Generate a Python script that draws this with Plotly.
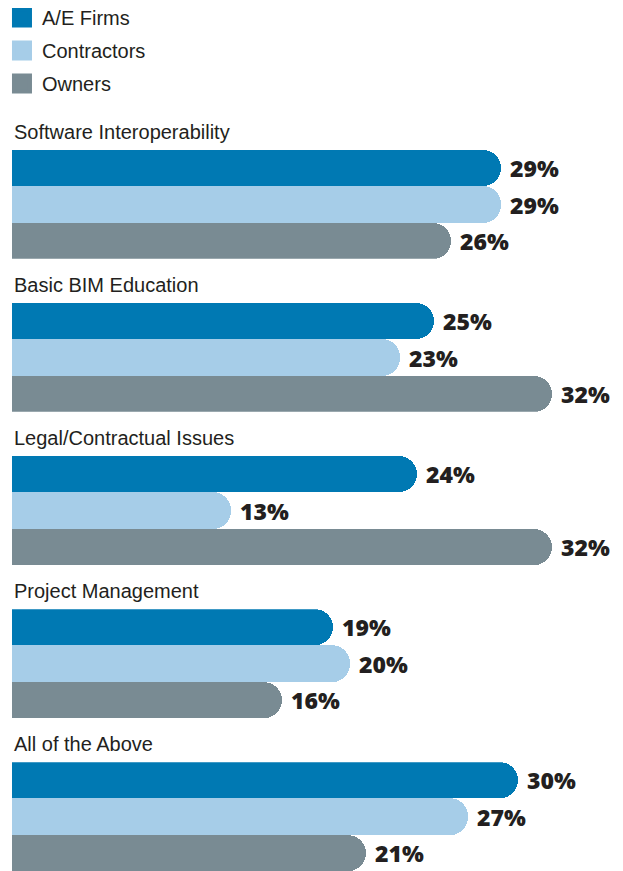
import plotly.graph_objects as go
from plotly.subplots import make_subplots

CATEGORIES = [
    "Software Interoperability",
    "Basic BIM Education",
    "Legal/Contractual Issues",
    "Project Management",
    "All of the Above",
]
SERIES = ["A/E Firms", "Contractors", "Owners"]
AE_FIRMS = [29, 25, 24, 19, 30]
CONTRACTORS = [29, 23, 13, 20, 27]
OWNERS = [26, 32, 32, 16, 21]

COLORS = ["#0079b3", "#a6cde8", "#798b93"]
TEXT = "#231f20"
LABEL_FONT = "Liberation Sans, Arial, sans-serif"
VALUE_FONT = "Open Sans, Lato, Roboto, sans-serif"

values = [AE_FIRMS, CONTRACTORS, OWNERS]

fig = make_subplots(rows=len(CATEGORIES), cols=1, shared_xaxes=True,
                    vertical_spacing=0.0614)

for r, cat in enumerate(CATEGORIES, start=1):
    for s, name in enumerate(SERIES):
        fig.add_trace(
            go.Bar(
                x=[values[s][r - 1]],
                y=[name],
                orientation="h",
                marker=dict(color=COLORS[s], line=dict(width=0), cornerradius=18),
                texttemplate="\u00a0%{x}%",
                textposition="outside",
                constraintext="none",
                cliponaxis=False,
                textfont=dict(family=VALUE_FONT, size=23, color=TEXT, weight=800),
                showlegend=False,
                hoverinfo="skip",
            ),
            row=r, col=1,
        )
    fig.update_yaxes(autorange="reversed", visible=False, row=r, col=1)
    yref = "y domain" if r == 1 else f"y{r} domain"
    fig.add_annotation(
        text=cat, xref="paper", x=0, xanchor="left",
        yref=yref, y=1, yanchor="middle", yshift=18,
        showarrow=False, font=dict(family=LABEL_FONT, size=20, color=TEXT),
    )

# legend entries
for s, name in enumerate(SERIES):
    fig.add_trace(go.Scatter(
        x=[None], y=[None], mode="markers", name=name,
        marker=dict(symbol="square", size=16, color=COLORS[s],
                    line=dict(color=COLORS[s], width=4)),
        legendgroup=name, showlegend=True,
    ))

fig.update_xaxes(range=[0, 36.2], visible=False)
# page body adds an 8px margin, so the figure is 8px smaller than the window
fig.update_layout(
    width=615, height=863,
    margin=dict(l=4, r=0, t=142, b=0, autoexpand=False),
    bargap=0,
    plot_bgcolor="#fff",
    paper_bgcolor="#fff",
    legend=dict(
        xref="paper", yref="paper", x=-0.0164, y=1.2108,
        xanchor="left", yanchor="top",
        font=dict(family=LABEL_FONT, size=20, color=TEXT),
        tracegroupgap=4, itemsizing="trace",
        bgcolor="rgba(0,0,0,0)",
    ),
)

fig.write_html("out.html")
